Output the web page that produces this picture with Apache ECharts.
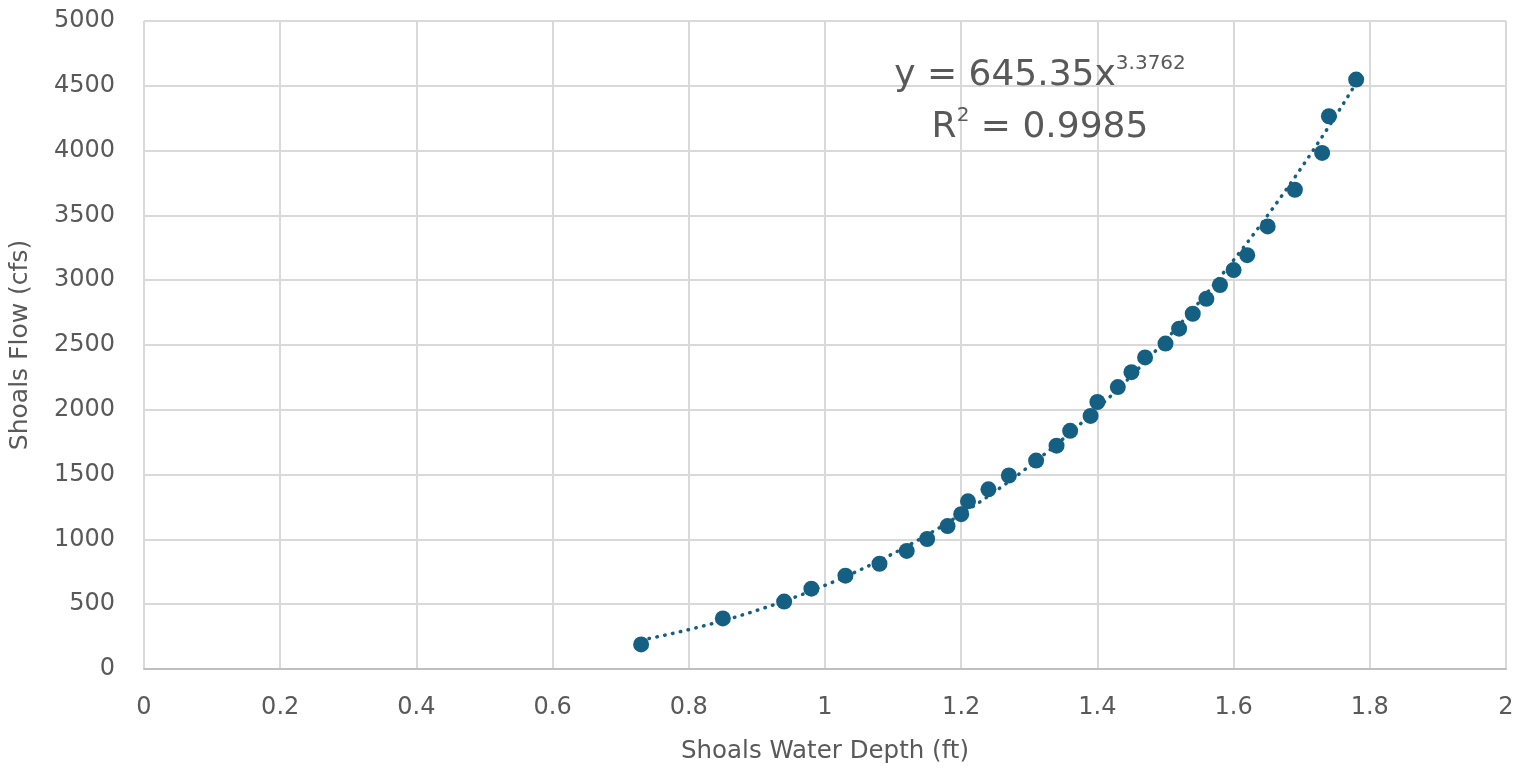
<!DOCTYPE html>
<html><head><meta charset="utf-8">
<script src="https://cdn.jsdelivr.net/npm/echarts@6/dist/echarts.min.js"></script>
<style>html,body{margin:0;padding:0;background:#fff}#c{width:1529px;height:769px}</style>
</head><body><div id="c"></div>
<script>
const depth = [0.73,0.85,0.94,0.98,1.03,1.08,1.12,1.15,1.18,1.20,1.21,1.24,1.27,1.31,1.34,1.36,1.39,1.40,1.43,1.45,1.47,1.50,1.52,1.54,1.56,1.58,1.60,1.62,1.65,1.69,1.73,1.74,1.78];
const flow  = [190,390,520,620,720,812,911,1003,1103,1195,1294,1386,1493,1608,1723,1838,1953,2060,2175,2290,2404,2511,2626,2741,2856,2963,3078,3193,3415,3698,3982,4265,4548];
const trendCoef = 645.35;
const trendExp = 3.3762;
const rSquared = '0.9985';

const pts = depth.map((d,i)=>[d, flow[i]]);
const xMin = Math.min(...depth), xMax = Math.max(...depth);
const trend = [];
for (let k=0;k<=100;k++){ const x = xMin + (xMax-xMin)*k/100; trend.push([x, trendCoef*Math.pow(x,trendExp)]); }

const FONT = 'DejaVu Sans';
const TXT = '#595959';
const COLOR = '#156082';
const chart = echarts.init(document.getElementById('c'));
const rich = {b:{fontSize:36,lineHeight:40,fill:TXT,fontFamily:FONT,verticalAlign:'bottom'},
              s:{fontSize:20,lineHeight:20,fill:TXT,fontFamily:FONT,verticalAlign:'top'}};
chart.setOption({
  animation:false,
  textStyle:{fontFamily:FONT},
  grid:{left:144,right:23,top:21,bottom:96,containLabel:false},
  xAxis:{type:'value',min:0,max:2,interval:0.2,
    name:'Shoals Water Depth (ft)',nameLocation:'middle',nameGap:70,
    nameTextStyle:{color:TXT,fontSize:24.5,fontFamily:FONT},
    axisLine:{show:true,lineStyle:{color:'#bfbfbf',width:2}},
    axisTick:{show:false},
    axisLabel:{color:TXT,fontSize:24,margin:27,fontFamily:FONT,formatter:v=>String(+v.toFixed(1))},
    splitLine:{show:true,lineStyle:{color:'#d9d9d9',width:2}}},
  yAxis:{type:'value',min:0,max:5000,interval:500,
    name:'Shoals Flow (cfs)',nameLocation:'middle',nameGap:111,nameRotate:90,
    nameTextStyle:{color:TXT,fontSize:25,fontFamily:FONT},
    axisLine:{show:false},axisTick:{show:false},
    axisLabel:{color:TXT,fontSize:24,margin:29,fontFamily:FONT,formatter:v=>String(v)},
    splitLine:{show:true,lineStyle:{color:'#d9d9d9',width:2}}},
  series:[
    {type:'line',data:trend,showSymbol:false,symbol:'none',smooth:false,z:1,
      lineStyle:{color:COLOR,width:3.5,type:[0.5,7.5],cap:'round'}},
    {type:'scatter',data:pts,symbol:'circle',symbolSize:16,z:2,
      itemStyle:{color:COLOR,opacity:1}}
  ],
  graphic:[
    {type:'text',x:1040,y:54,z:10,style:{rich:rich,align:'center',
      text:'{b|y = '+trendCoef+'x}{s|'+trendExp+'}'}},
    {type:'text',x:1040,y:106,z:10,style:{rich:rich,align:'center',
      text:'{b|R}{s|2}{b| = '+rSquared+'}'}}
  ]
});
</script></body></html>
